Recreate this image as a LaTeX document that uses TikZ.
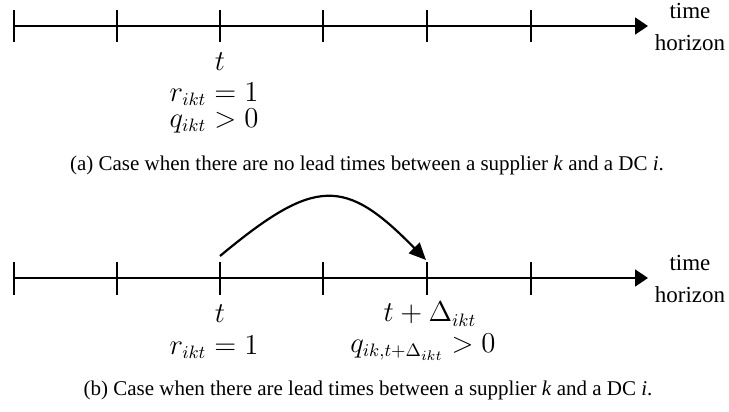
\documentclass[tikz,border=0pt]{standalone}
\usepackage{fontspec}
\setmainfont{Liberation Serif}
\usepackage{tikz}
\usetikzlibrary{
  arrows.meta,
  positioning,
  calc
}
\tikzset{
  tlaxis/.style={-{Triangle[length=6.5pt, width=8.5pt]}, line width=0.85pt, black},
  tltick/.style={line width=0.85pt, black},
  leadarrow/.style={-{Triangle[length=8.5pt, width=7.5pt]}, line width=1.1pt, black},
  tllabel/.style={font=\fontsize{13.5}{15}\selectfont, inner sep=0pt, anchor=center},
  tlname/.style={font=\fontsize{11.5}{16}\selectfont, align=center, inner sep=0pt},
  captext/.style={font=\fontsize{10.5}{12}\selectfont, inner sep=0pt}
}

\begin{document}
\begin{tikzpicture}[x=0.5pt, y=-0.5pt]
  \useasboundingbox (0,0) rectangle (729,412);

  % (a) no lead times
  \foreach \i/\x in {0/14, 1/117, 2/220, 3/323, 4/427, 5/531} {
    \coordinate (a\i) at (\x,26);
    \draw[tltick] (\x,10) -- (\x,42);
  }
  \coordinate (aend) at (648,26);
  \draw[tlaxis] (a0) -- (aend);
  \node[tlname] (horizonA) at (690,27) {time\\horizon};

  \node[tllabel] (tA) at (220,62) {$t$};
  \node[tllabel] (rA) at (214,94) {$r_{ikt} = 1$};
  \node[tllabel] (qA) at (214,121) {$q_{ikt} > 0$};
  \node[captext] (capA) at (367,165) {(a) Case when there are no lead times between a supplier \textit{k} and a DC \textit{i}.};

  % (b) with lead times
  \foreach \i/\x in {0/14, 1/117, 2/220, 3/323, 4/427, 5/531} {
    \coordinate (b\i) at (\x,278);
    \draw[tltick] (\x,262) -- (\x,295);
  }
  \coordinate (bend) at (648,278);
  \draw[tlaxis] (b0) -- (bend);
  \node[tlname] (horizonB) at (690,279) {time\\horizon};

  \coordinate (leadfrom) at (220,256);
  \coordinate (leadto) at (426,260);
  \draw[leadarrow] (leadfrom) .. controls (315,177) and (345,177) .. (leadto);

  \node[tllabel] (tB) at (220,314) {$t$};
  \node[tllabel] (tdB) at (430,314) {$t + \Delta_{ikt}$};
  \node[tllabel] (rB) at (214,347) {$r_{ikt} = 1$};
  \node[tllabel] (qB) at (423,347) {$q_{ik,t+\Delta_{ikt}} > 0$};
  \node[captext] (capB) at (368,390) {(b) Case when there are lead times between a supplier \textit{k} and a DC \textit{i}.};
\end{tikzpicture}
\end{document}
